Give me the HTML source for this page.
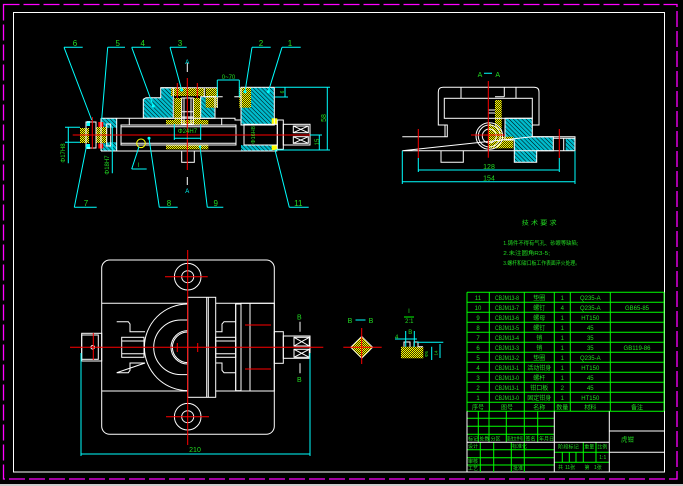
<!DOCTYPE html>
<html><head><meta charset="utf-8">
<style>
html,body{margin:0;padding:0;background:#000;width:683px;height:486px;overflow:hidden}
svg{display:block}
text{font-family:"Liberation Sans","Noto Sans CJK SC",sans-serif;fill:#22dd22}
.w{fill:none;stroke:#fff;stroke-width:1}
.c{fill:none;stroke:#0ff;stroke-width:1}
.r{fill:none;stroke:#f00;stroke-width:1}
.g{fill:none;stroke:#0f0;stroke-width:1}
.hc{fill:url(#hc)}
.hy{fill:url(#hy)}
</style></head><body>
<svg width="683" height="486" viewBox="0 0 683 486" xmlns="http://www.w3.org/2000/svg">
<defs>
<pattern id="hc" width="3" height="3" patternUnits="userSpaceOnUse" patternTransform="rotate(45)">
<rect width="3" height="3" fill="#0bc"/><line x1="0" y1="0" x2="3" y2="0" stroke="#000" stroke-width="1"/>
</pattern>
<pattern id="hy" width="2" height="2" patternUnits="userSpaceOnUse">
<rect width="2" height="2" fill="#330"/><rect x="0" y="0" width="1" height="1" fill="#ff0"/><rect x="1" y="1" width="1" height="1" fill="#ff0"/>
</pattern>
</defs>

<!-- frames -->
<rect x="3.5" y="4.5" width="673.5" height="474.5" fill="none" stroke="#f0f" stroke-width="1.3" stroke-dasharray="16 4"/>
<rect x="13.5" y="12.5" width="651" height="459.5" class="w"/>
<rect x="0" y="484" width="683" height="2" fill="#ccc"/>

<!-- ================= TOP-LEFT MAIN VIEW ================= -->
<!-- hatch fills -->
<polygon class="hc" points="143.3,118.3 143.3,99.3 146,97.7 160.7,97.7 160.7,87.7 173.3,87.7 173.3,118.3"/>
<rect class="hc" x="200.7" y="96.7" width="14.3" height="21.6"/>
<rect class="hc" x="101" y="118.3" width="15.7" height="9.4"/>
<rect class="hc" x="101" y="142.3" width="15.7" height="8.7"/>
<rect class="hc" x="241" y="87.3" width="33.3" height="37.7"/>
<rect class="hc" x="241" y="145" width="32.3" height="6"/>
<rect class="hy" x="171" y="87.7" width="33.3" height="8.3"/>
<rect class="hy" x="174.3" y="98" width="7.4" height="26.3"/>
<rect class="hy" x="193.3" y="98" width="7.4" height="26.3"/>
<rect class="hy" x="205.7" y="87.7" width="11.6" height="20"/>
<rect class="hy" x="239.3" y="87.3" width="11.7" height="20.4"/>
<rect class="hy" x="166" y="120" width="42.3" height="4.3"/>
<rect class="hy" x="166" y="144.3" width="42.3" height="5"/>
<rect class="hy" x="80" y="128" width="9" height="15"/>
<rect class="hy" x="96" y="127" width="10.7" height="16"/>
<rect x="271.7" y="118.3" width="5.6" height="6" fill="#ff0"/>
<rect x="271.7" y="145" width="5.6" height="5" fill="#ff0"/>
<rect x="98.3" y="122" width="5" height="5" fill="#f00"/>
<rect x="98.3" y="143.5" width="5" height="5" fill="#f00"/>
<rect x="86.7" y="121" width="3.3" height="5" fill="#0ff"/>
<rect x="86.7" y="144" width="3.3" height="5" fill="#0ff"/>

<!-- white outlines -->
<g class="w">
<path d="M101,118.3 H235 V120 H241 M101,151 H277.3 M101,118.3 V151 M116.7,118.3 V151"/>
<rect x="121" y="125" width="115" height="20"/>
<path d="M121,126.7 H236 M121,143.3 H236 M129.3,118.3 V125 M221.7,118.3 V125"/>
<polygon points="143.3,118.3 143.3,99.3 146,97.7 160.7,97.7 160.7,87.7 173.3,87.7 173.3,118.3"/>
<path d="M160.7,87.7 H217.3 V108 M204.3,87.7 V96.7"/>
<rect x="181.7" y="98" width="11.6" height="26.3"/>
<path d="M181.7,111.7 H193.3 M181.7,117 H193.3 M184,98 V124 M191,98 V124"/>
<rect x="200.7" y="96.7" width="14.3" height="21.6"/>
<path d="M205.7,96.7 H222.7 M234.3,96.7 H241"/>
<rect x="181.7" y="151" width="12.6" height="11.3"/>
<rect x="241" y="87.3" width="33.3" height="37.7"/>
<rect x="244" y="124.3" width="33.3" height="20.7"/>
<rect x="277.3" y="120" width="6" height="29.3"/>
<rect x="283.3" y="124.3" width="26.7" height="20.7"/>
<rect x="293.3" y="126" width="15" height="6.7"/>
<rect x="293.3" y="136.7" width="15" height="6.6"/>
<path d="M293.3,126 L308.3,132.7 M293.3,132.7 L308.3,126 M293.3,136.7 L308.3,143.3 M293.3,143.3 L308.3,136.7"/>
<rect x="86" y="122" width="10" height="26"/>
<rect x="106.7" y="124" width="4" height="22"/>
<path d="M187.3,63 V72 M187.3,177 V185"/>
</g>
<g class="r">
<path d="M72.7,135 H318 M187.3,78 V170 M177.3,83 V98 M197.3,83 V98 M92.3,117 V149"/>
</g>
<circle cx="141" cy="143.3" r="4.3" fill="none" stroke="#ff0"/>
<!-- cyan leaders & dims -->
<g class="c">
<path d="M64,47.3 H82.7 M64,47.3 L91.7,120"/>
<path d="M107.7,47.3 H125 M107.7,47.3 L101.7,119.3"/>
<path d="M131.7,47.3 H150.7 M131.7,47.3 L153.3,106"/>
<path d="M170,47.3 H186.7 M170,47.3 L181.7,90"/>
<path d="M252,47.3 H270.7 M252,47.3 L245,91.7"/>
<path d="M282,47.3 H300.7 M282,47.3 L268.3,91.7"/>
<path d="M74.3,207.3 H96.7 M74.3,207.3 L86.7,145"/>
<path d="M159.3,207.3 H177.7 M159.3,207.3 L149,138.3"/>
<path d="M207.3,207.3 H223.3 M207.3,207.3 L200,146.7"/>
<path d="M289.3,207.3 H308.7 M289.3,207.3 L275,150"/>
<path d="M131.7,169 H146.7 M131.7,169 L139,146.7"/>
<path d="M217.3,80 H239.3 M217.3,80 V97 M239.3,80 V97"/>
<path d="M174.3,138.3 H200.7 M174.3,124 V140 M200.7,124 V140"/>
<path d="M275,87.3 H330 M275,150 H330 M327.3,87.3 V150 M319.3,135 V150 M310,135 H322"/>
<path d="M285,87 V97 M275,97 H288"/>
<path d="M65,127.3 H80 M65,142.3 H80 M68.3,126.7 V163.3 M112.3,126.7 V173.3"/>
</g>
<g fill="#0ff">
<circle cx="153.3" cy="106" r="1.5"/><circle cx="181.7" cy="90" r="1.5"/>
<circle cx="245" cy="91.7" r="1.5"/><circle cx="268.3" cy="91.7" r="1.5"/>
<circle cx="149" cy="138.3" r="1.5"/><circle cx="200" cy="146.7" r="1.2"/>
</g>
<text x="187.3" y="64" font-size="6" text-anchor="middle" style="fill:#0ff">A</text>
<text x="187.3" y="193" font-size="6" text-anchor="middle" style="fill:#0ff">A</text>
<g font-size="8" text-anchor="middle">
<text x="75" y="46">6</text><text x="117.7" y="46">5</text><text x="142.7" y="46">4</text>
<text x="180" y="46">3</text><text x="261" y="46">2</text><text x="290" y="46">1</text>
<text x="86" y="206">7</text><text x="169" y="206">8</text><text x="215.7" y="206">9</text>
<text x="298.3" y="206">11</text><text x="138.5" y="167" font-size="6">I</text>
</g>
<text x="228.5" y="79" font-size="6" text-anchor="middle">0~70</text>
<text x="187.5" y="133" font-size="6" text-anchor="middle">Φ24H7</text>
<text transform="translate(326,118) rotate(-90)" font-size="7" text-anchor="middle">58</text>
<text transform="translate(319,142) rotate(-90)" font-size="6" text-anchor="middle">15</text>
<text transform="translate(284,92) rotate(-90)" font-size="5" text-anchor="middle">6</text>
<text transform="translate(255,135) rotate(-90)" font-size="5.5" text-anchor="middle">Φ16H8</text>
<text transform="translate(65,153) rotate(-90)" font-size="6" text-anchor="middle">Φ17H8</text>
<text transform="translate(109,165) rotate(-90)" font-size="6" text-anchor="middle">Φ18H7</text>

<!-- ================= TOP-RIGHT A-A ================= -->
<polygon class="hc" points="505,118.3 532.3,118.3 532.3,136.7 553.3,136.7 553.3,150.7 536.7,150.7 536.7,162.3 514.3,162.3 514.3,140 505,140"/>
<rect class="hc" x="565.7" y="138.3" width="9.3" height="12.4"/>
<rect class="hy" x="495" y="100" width="6.7" height="48.3"/>
<rect class="hy" x="488.3" y="136.7" width="25" height="11.6"/>
<polygon class="hy" points="488.3,123 500,128 503,136.7 488.3,136.7"/>
<g class="w">
<path d="M402.3,136.7 H447.3 V125 H438.3 V92 Q438.3,87.3 443,87.3 H534 Q539,87.3 539,92 V125 H532.3 M445,125 V136.7 M532.3,136.7 H575 V150.7 H402.3 Z"/>
<rect x="444.3" y="98.3" width="88" height="20"/>
<path d="M461,87.3 V98.3 M504.3,87.3 V96.7 M516,87.3 V98.3 M495,96.7 H504.3 M488.3,110 H495 M488.3,113 H495"/>
<path d="M441,150.7 V162.3 H463.3 V150.7"/>
<circle cx="489.3" cy="136" r="13.3"/>
<circle cx="489.3" cy="136" r="11"/>
<circle cx="489.3" cy="136" r="7"/>
<path d="M553.3,138.3 H575 M563.7,138.3 V150.7"/>
<polygon points="505,118.3 532.3,118.3 532.3,136.7 553.3,136.7 553.3,150.7 536.7,150.7 536.7,162.3 514.3,162.3 514.3,140 505,140"/>
</g>
<g class="r"><path d="M488.3,81 V157.7 M471,135 H505 M418.3,129 V158.3 M559.3,129 V158.3"/></g>
<g class="c"><path d="M418.3,158 V172 M559.3,158 V172 M418.3,170 H559.3 M402.3,150.7 V184 M575,150.7 V184 M402.3,181.7 H575 M484,73.3 H492"/></g>
<text x="480" y="77" font-size="7" text-anchor="middle">A</text>
<text x="497.7" y="77" font-size="7" text-anchor="middle">A</text>
<text x="489" y="169" font-size="7" text-anchor="middle">128</text>
<text x="489" y="180.5" font-size="7" text-anchor="middle">154</text>

<!-- ================= BOTTOM-LEFT PLAN VIEW ================= -->
<g class="w">
<rect x="101.7" y="260" width="172.6" height="174.3" rx="8"/>
<path d="M101.7,303.3 H187.7 M215.7,303.3 H274.3 M101.7,391 H187.7 M215.7,391 H274.3"/>
<circle cx="187.7" cy="276.7" r="13.3"/><circle cx="187.7" cy="276.7" r="6"/>
<circle cx="187.7" cy="416.7" r="13.3"/><circle cx="187.7" cy="416.7" r="6"/>
<path d="M187.7,304 A43.3,43.3 0 0 0 187.7,390.6"/>
<path d="M187.7,320 H181 A27.3,27.3 0 0 0 181,374.6 H187.7"/>
<circle cx="187.7" cy="347.3" r="16.7"/>
<circle cx="187.7" cy="347.3" r="15.3"/>
<rect x="187.7" y="297.3" width="28" height="100" fill="#000"/>
<path d="M206.7,297.3 V397.3 M208.3,297.3 V397.3"/>
<path d="M116.7,321.7 H128.3 L130,324 V331.7 H145 M145,363 H130 V370.3 L128.3,372.7 H116.7 Z"/>
<rect x="121.7" y="337.3" width="22.3" height="20"/>
<path d="M121.7,341 H144 M121.7,353.7 H144"/>
<path d="M235.7,321.7 H224 L222,324 V331.7 H215.7 M215.7,363 H222 V370.3 L224,372.7 H235.7 M235.7,304 V390.7"/>
<rect x="215.7" y="337.3" width="20" height="20"/>
<path d="M215.7,341 H235.7 M215.7,353.7 H235.7"/>
<rect x="235.7" y="304" width="5.3" height="86.7"/>
<rect x="241" y="303.3" width="33.3" height="87.7"/>
<path d="M250,303.3 V391"/>
<rect x="81.7" y="333.3" width="20" height="27.7"/>
<rect x="81.7" y="335" width="16.6" height="24.3"/>
<circle cx="92.7" cy="347.3" r="1.8"/>
<rect x="274.3" y="331.7" width="9" height="31.6"/>
<rect x="283.3" y="336" width="26.7" height="22.3"/>
<rect x="294" y="337.3" width="15.3" height="8.7"/>
<rect x="294" y="349.3" width="15.3" height="8"/>
<path d="M294,337.3 L309.3,346 M294,346 L309.3,337.3 M294,349.3 L309.3,357.3 M294,357.3 L309.3,349.3"/>
<path d="M300,321.7 V331.7 M300,363.3 V373.3"/>
</g>
<g class="r">
<path d="M187.7,250 V445 M70,347.3 H323.3 M165,276.7 H207.7 M166,416.7 H209 M245,325 H271 M245,369 H271 M93.3,333 V360 M177.3,343 V352 M197.7,343 V352"/>
</g>
<g class="c"><path d="M81,454 H310 M81,353 V456 M310,353 V456"/></g>
<text x="299.3" y="319.5" font-size="7" text-anchor="middle">B</text>
<text x="299.3" y="382" font-size="7" text-anchor="middle">B</text>
<text x="195" y="452" font-size="7" text-anchor="middle">210</text>

<!-- ================= B-B and detail I ================= -->
<text x="350" y="323" font-size="7" text-anchor="middle">B</text>
<line x1="355.5" y1="320" x2="365.5" y2="320" stroke="#0ff"/>
<text x="371" y="323" font-size="7" text-anchor="middle">B</text>
<polygon class="hy" points="361.7,336.3 372.7,347.3 361.7,358.3 350.7,347.3"/>
<polygon points="361.7,336.3 372.7,347.3 361.7,358.3 350.7,347.3" fill="none" stroke="#fff" stroke-width="0.8"/>
<g class="r"><path d="M343.3,347.3 H381.7 M361.7,328 V364"/></g>
<text x="409" y="313" font-size="6" text-anchor="middle">I</text>
<line x1="404" y1="317" x2="414" y2="317" stroke="#0f0"/>
<text x="409.3" y="323" font-size="6" text-anchor="middle">2:1</text>
<rect class="hy" x="401" y="346.7" width="22.3" height="11.6"/>
<g class="w"><path d="M404,346.7 V342 H410 V347 M414,347 V342 H418 V346.7 H423"/></g>
<g class="c"><path d="M395,339 H417 M405.7,331 V346.7 M414.3,331 V346.7 M416.7,342.3 H443.3 M431.7,346.7 V360 M440,344 V358"/></g>
<text x="396.7" y="339" font-size="6" text-anchor="middle">4</text>
<text x="410.3" y="334" font-size="6" text-anchor="middle">B</text>
<text transform="translate(428,354) rotate(-90)" font-size="4.5" text-anchor="middle">Φ5</text>
<text transform="translate(437.5,353) rotate(-90)" font-size="4.5" text-anchor="middle">14</text>

<!-- ================= NOTES ================= -->
<text x="521.7" y="225" font-size="6" textLength="35" lengthAdjust="spacingAndGlyphs">技 术 要 求</text>
<text x="503.3" y="245" font-size="5.5" textLength="75" lengthAdjust="spacingAndGlyphs">1.铸件不得有气孔、砂眼等缺陷;</text>
<text x="503.3" y="255" font-size="5.5" textLength="46.7" lengthAdjust="spacingAndGlyphs">2.未注圆角R3-5;</text>
<text x="503.3" y="265" font-size="5.5" textLength="76.7" lengthAdjust="spacingAndGlyphs">3.螺杆和钳口板工作表面淬火处理。</text>

<!-- ================= PARTS TABLE ================= -->
<g class="g">
<path d="M467,292.3 H664 M467,302.3 H664 M467,312.3 H664 M467,322.3 H664 M467,332.3 H664 M467,342.3 H664 M467,352.3 H664 M467,362.3 H664 M467,372.3 H664 M467,382.3 H664 M467,392.3 H664 M467,402.3 H664 M467,411.3 H664"/>
<path d="M467,292.3 V411.3 M489.3,292.3 V411.3 M524.3,292.3 V411.3 M554.3,292.3 V411.3 M570.3,292.3 V411.3 M610.3,292.3 V411.3 M664,292.3 V411.3"/>
</g>
<g font-size="6" text-anchor="middle">
<text x="478" y="299.8">11</text><text x="507" y="299.8" textLength="24" lengthAdjust="spacingAndGlyphs">CBJM13-8</text><text x="539.3" y="299.8">垫圈</text><text x="562.3" y="299.8">1</text><text x="590.3" y="299.8">Q235-A</text>
<text x="478" y="309.8">10</text><text x="507" y="309.8" textLength="24" lengthAdjust="spacingAndGlyphs">CBJM13-7</text><text x="539.3" y="309.8">螺钉</text><text x="562.3" y="309.8">4</text><text x="590.3" y="309.8">Q235-A</text><text x="637" y="309.8">GB65-85</text>
<text x="478" y="319.8">9</text><text x="507" y="319.8" textLength="24" lengthAdjust="spacingAndGlyphs">CBJM13-6</text><text x="539.3" y="319.8">螺母</text><text x="562.3" y="319.8">1</text><text x="590.3" y="319.8">HT150</text>
<text x="478" y="329.8">8</text><text x="507" y="329.8" textLength="24" lengthAdjust="spacingAndGlyphs">CBJM13-5</text><text x="539.3" y="329.8">螺钉</text><text x="562.3" y="329.8">1</text><text x="590.3" y="329.8">45</text>
<text x="478" y="339.8">7</text><text x="507" y="339.8" textLength="24" lengthAdjust="spacingAndGlyphs">CBJM13-4</text><text x="539.3" y="339.8">销</text><text x="562.3" y="339.8">1</text><text x="590.3" y="339.8">35</text>
<text x="478" y="349.8">6</text><text x="507" y="349.8" textLength="24" lengthAdjust="spacingAndGlyphs">CBJM13-3</text><text x="539.3" y="349.8">销</text><text x="562.3" y="349.8">1</text><text x="590.3" y="349.8">35</text><text x="637" y="349.8">GB119-86</text>
<text x="478" y="359.8">5</text><text x="507" y="359.8" textLength="24" lengthAdjust="spacingAndGlyphs">CBJM13-2</text><text x="539.3" y="359.8">垫圈</text><text x="562.3" y="359.8">1</text><text x="590.3" y="359.8">Q235-A</text>
<text x="478" y="369.8">4</text><text x="507" y="369.8" textLength="24" lengthAdjust="spacingAndGlyphs">CBJM13-1</text><text x="539.3" y="369.8">活动钳身</text><text x="562.3" y="369.8">1</text><text x="590.3" y="369.8">HT150</text>
<text x="478" y="379.8">3</text><text x="507" y="379.8" textLength="24" lengthAdjust="spacingAndGlyphs">CBJM13-0</text><text x="539.3" y="379.8">螺杆</text><text x="562.3" y="379.8">1</text><text x="590.3" y="379.8">45</text>
<text x="478" y="389.8">2</text><text x="507" y="389.8" textLength="24" lengthAdjust="spacingAndGlyphs">CBJM13-1</text><text x="539.3" y="389.8">钳口板</text><text x="562.3" y="389.8">2</text><text x="590.3" y="389.8">45</text>
<text x="478" y="399.8">1</text><text x="507" y="399.8" textLength="24" lengthAdjust="spacingAndGlyphs">CBJM13-0</text><text x="539.3" y="399.8">固定钳身</text><text x="562.3" y="399.8">1</text><text x="590.3" y="399.8">HT150</text>
<text x="478" y="409.3">序号</text><text x="507" y="409.3">图号</text><text x="539.3" y="409.3">名称</text><text x="562.3" y="409.3">数量</text><text x="590.3" y="409.3">材料</text><text x="637" y="409.3">备注</text>
</g>

<!-- ================= TITLE BLOCK ================= -->
<g class="g">
<path d="M467,418.3 H554.3 M467,426.3 H554.3 M467,434.3 H554.3 M467,449.7 H554.3 M467,457.7 H554.3 M467,465 H554.3"/>
<path d="M478.3,411.3 V442.3 M489,411.3 V442.3 M506.3,411.3 V442.3 M524.3,411.3 V442.3 M537.7,411.3 V442.3"/>
<path d="M480.3,442.3 V472 M493.7,442.3 V472 M511.3,442.3 V472 M524.3,442.3 V472"/>
<path d="M554.3,452.3 H609.3 M554.3,462.3 H609.3 M562.3,452.3 V462.3 M569.3,452.3 V462.3 M576,452.3 V462.3 M583.3,442.3 V462.3 M596,442.3 V462.3"/>
</g>
<g class="w">
<path d="M467,411.3 V472 M554.3,411.3 V472 M609.3,411.3 V472 M467,442.3 H609.3 M609.3,431 H664 M609.3,452.3 H664"/>
</g>
<g font-size="5">
<text x="468" y="440.5">标记</text><text x="479.5" y="440.5">处数</text><text x="490.5" y="440.5">分区</text><text x="507" y="440.5" textLength="16" lengthAdjust="spacingAndGlyphs">更改文件号</text><text x="525.5" y="440.5">签名</text><text x="539" y="440.5">年月日</text>
<text x="468" y="448">设计</text><text x="512" y="448">标准化</text>
<text x="468" y="463">审核</text>
<text x="468" y="470">工艺</text><text x="513" y="470">批准</text>
<text x="558" y="448.5" font-size="5.2">阶段标记</text><text x="584.3" y="448.5">重量</text><text x="597.3" y="448.5">比例</text>
<text x="599.3" y="459">1:1</text>
<text x="558" y="469">共</text><text x="565" y="469">11张</text><text x="584.5" y="469">第</text><text x="594" y="469">1张</text>
</g>
<text x="621" y="441.5" font-size="6.5">虎钳</text>
</svg>
</body></html>
